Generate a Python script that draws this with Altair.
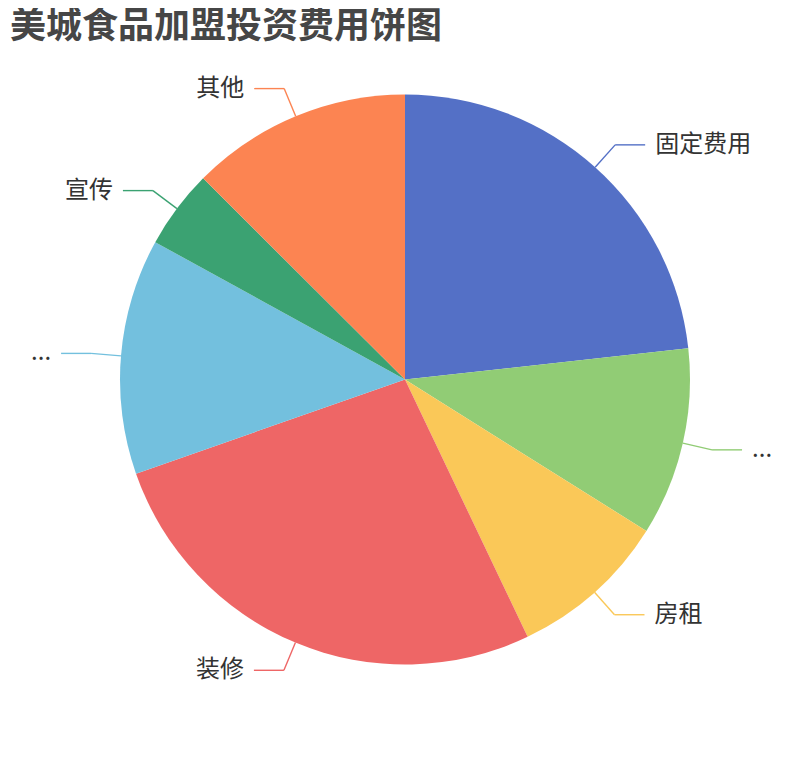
import altair as alt
import pandas as pd

# Data
labels = ["固定费用", "...", "房租", "装修", "...", "宣传", "其他"]
values = [23.25, 10.67, 9.0, 26.72, 13.36, 4.47, 12.53]
colors = ["#5470c6", "#91cc75", "#fac858", "#ee6666", "#73c0de", "#3ba272", "#fc8452"]
title_text = "美城食品加盟投资费用饼图"

df = pd.DataFrame({"idx": list(range(len(labels))), "label": labels, "value": values})

CX, CY, R = 397, 371.5, 285
L1, L2, GAP = 30, 30, 10
FONT = "Noto Sans CJK SC"

color = alt.Color("idx:N", scale=alt.Scale(domain=list(range(len(labels))), range=colors), legend=None)

base = alt.Chart(df)

pie = base.mark_arc(outerRadius=R).encode(
    theta=alt.Theta("value:Q", stack=True),
    color=color,
    order=alt.Order("idx:Q", sort="ascending"),
    x=alt.value(CX),
    y=alt.value(CY),
)

geo = base.transform_window(
    cum="sum(value)", sort=[alt.SortField("idx", order="ascending")], frame=[None, 0]
).transform_joinaggregate(
    total="sum(value)"
).transform_calculate(
    mid="(datum.cum - datum.value/2) / datum.total * 2 * PI"
).transform_calculate(
    s="sin(datum.mid)", c="cos(datum.mid)"
).transform_calculate(
    dir="datum.s >= 0 ? 1 : -1",
    x1=f"{CX} + {R} * datum.s",
    y1=f"{CY} - {R} * datum.c",
    x2=f"{CX} + {R + L1} * datum.s",
    y2=f"{CY} - {R + L1} * datum.c",
).transform_calculate(
    x3=f"datum.x2 + {L2} * datum.dir",
    tx=f"datum.x2 + {L2 + GAP} * datum.dir",
)

seg1 = geo.mark_rule(strokeWidth=1.4).encode(
    x=alt.X("x1:Q", scale=None), y=alt.Y("y1:Q", scale=None),
    x2="x2:Q", y2="y2:Q", color=color,
)
seg2 = geo.mark_rule(strokeWidth=1.4).encode(
    x=alt.X("x2:Q", scale=None), y=alt.Y("y2:Q", scale=None),
    x2="x3:Q", y2="y2:Q", color=color,
)
txt_r = geo.transform_filter("datum.dir > 0").mark_text(
    align="left", baseline="middle", font=FONT, fontSize=24, color="#333333"
).encode(x=alt.X("tx:Q", scale=None), y=alt.Y("y2:Q", scale=None), text="label:N")
txt_l = geo.transform_filter("datum.dir < 0").mark_text(
    align="right", baseline="middle", font=FONT, fontSize=24, color="#333333"
).encode(x=alt.X("tx:Q", scale=None), y=alt.Y("y2:Q", scale=None), text="label:N")

title = alt.Chart(pd.DataFrame({"t": [title_text]})).mark_text(
    align="left", baseline="middle", font=FONT, fontSize=36, fontWeight="bold", color="#464646"
).encode(x=alt.value(2), y=alt.value(19), text="t:N")

chart = alt.layer(pie, seg1, seg2, txt_r, txt_l, title).properties(
    width=794, height=744, autosize=alt.AutoSizeParams(type="none"), padding=0
).configure_view(stroke=None)

chart.save("out.html", embed_options={"renderer": "svg", "actions": False})
